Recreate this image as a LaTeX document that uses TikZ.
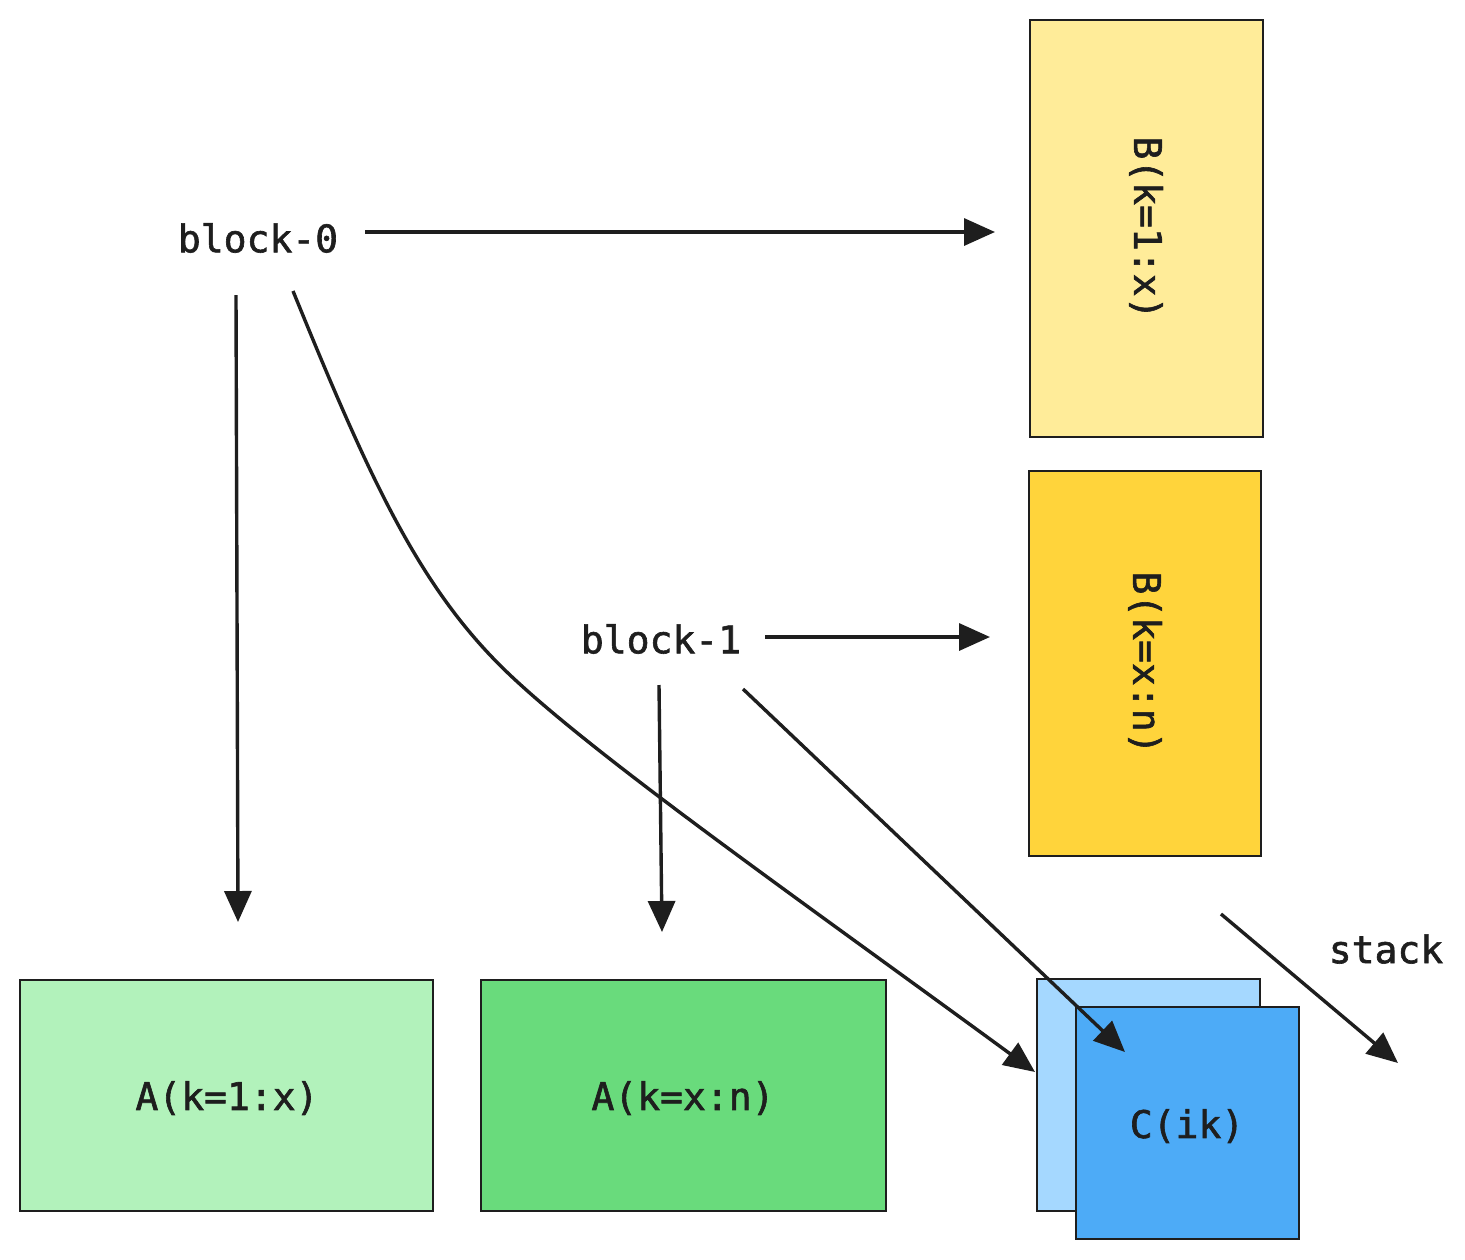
\documentclass[tikz,border=0pt]{standalone}
\usepackage{fontspec}
\newfontface\lblfont{DejaVu Sans Mono}[FakeBold=1.6]
\usetikzlibrary{arrows.meta}
\definecolor{ink}{HTML}{1E1E1E}
\definecolor{bone}{HTML}{FFEC99}
\definecolor{btwo}{HTML}{FFD43B}
\definecolor{aone}{HTML}{B2F2BB}
\definecolor{atwo}{HTML}{69DB7C}
\definecolor{cback}{HTML}{A5D8FF}
\definecolor{cfront}{HTML}{4DABF7}
\begin{document}
\begin{tikzpicture}[x=1pt, y=-1pt,
	lbl/.style={font=\lblfont\fontsize{38}{40}\selectfont, text=ink},
	tile/.style={draw=ink, line width=1.6pt},
	flow/.style={draw=ink, line width=3.4pt, -{Triangle[length=31pt,width=27pt]}}]
		\useasboundingbox (0,0) rectangle (1465,1259);
		%blocks of B
		\draw[tile, fill=bone] (1030,20) rectangle (1263,437);
		\node[lbl, rotate=-90] (b1) at (1146,228){B(k=1:x)};
		\draw[tile, fill=btwo] (1029,471) rectangle (1261,856);
		\node[lbl, rotate=-90] (b2) at (1145,663){B(k=x:n)};
		
		%blocks of A
		\draw[tile, fill=aone] (20,980) rectangle (433,1211);
		\node[lbl] (a1) at (227,1098){A(k=1:x)};
		\draw[tile, fill=atwo] (481,980) rectangle (886,1211);
		\node[lbl] (a2) at (683,1098){A(k=x:n)};
		
		%stacked C
		\draw[tile, fill=cback] (1037,979) rectangle (1260,1211);
		\draw[tile, fill=cfront] (1076,1007) rectangle (1299,1239);
		\node[lbl] (c) at (1187,1126){C(ik)};
		
		%thread blocks
		\node[lbl] (blk0) at (258,238){block-0};
		\node[lbl] (blk1) at (661,639){block-1};
		\node[lbl] (stk) at (1386,949){stack};
		
		\coordinate (p0r) at (365,232);
		\coordinate (q0r) at (995,232);
		\coordinate (p0d) at (236,295);
		\coordinate (q0d) at (238,922);
		\coordinate (p0c) at (293,291);
		\coordinate (q0c) at (1035,1072);
		\coordinate (p1r) at (765,637);
		\coordinate (q1r) at (990,637);
		\coordinate (p1d) at (659,685);
		\coordinate (q1d) at (662,932);
		\coordinate (p1c) at (743,689);
		\coordinate (q1c) at (1125,1052);
		\coordinate (ps) at (1221,914);
		\coordinate (qs) at (1398,1063);
		
		\draw[flow] (p0r) -- (q0r);
		\draw[flow] (p0d) -- (q0d);
		\draw[flow] (p0c) .. controls (370,480) and (420,590) .. (510,675)
			.. controls (600,760) and (800,900) .. (q0c);
		\draw[flow] (p1r) -- (q1r);
		\draw[flow] (p1d) -- (q1d);
		\draw[flow] (p1c) -- (q1c);
		\draw[flow] (ps) -- (qs);
		\end{tikzpicture}
\end{document}
